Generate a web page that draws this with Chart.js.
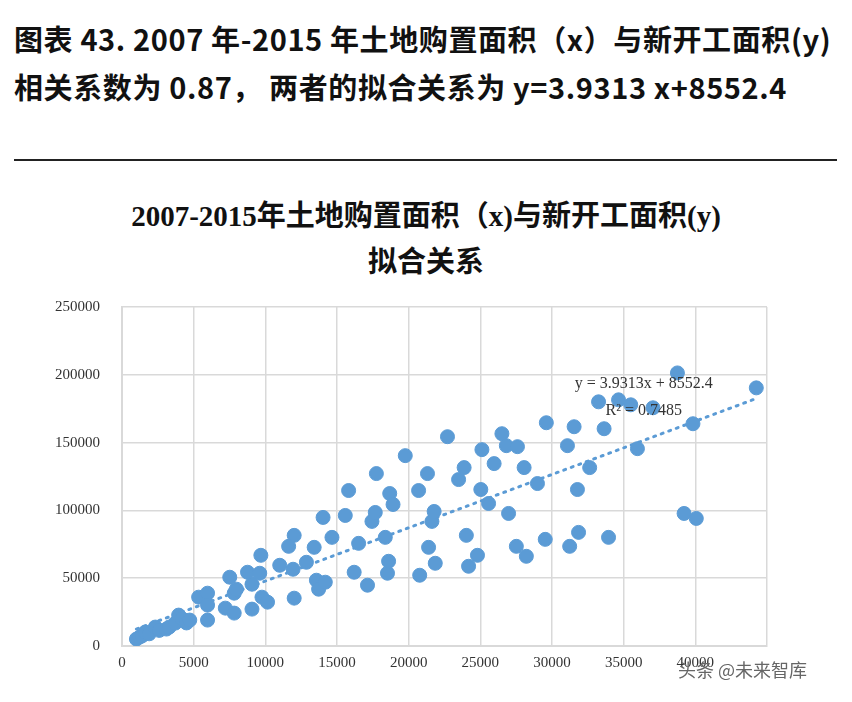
<!DOCTYPE html>
<html>
<head>
<meta charset="utf-8">
<script src="https://cdn.jsdelivr.net/npm/chart.js@4"></script>
<style>
  body { margin: 0; width: 852px; height: 702px; background: #fff; position: relative; overflow: hidden; font-family: "Noto Sans CJK SC", sans-serif; }
  .head { position: absolute; left: 14px; font-weight: bold; font-size: 29px; letter-spacing: 0.6px; color: #111; white-space: nowrap; }
  .rule { position: absolute; left: 14px; width: 823px; top: 159px; border-top: 2px solid #222; }
  .title { position: absolute; left: 0; width: 852px; text-align: center; font-size: 29px; color: #111; font-family: "Liberation Serif", "Noto Sans CJK SC", serif; font-weight: bold; }
  .mark { position: absolute; left: 678px; top: 656px; font-size: 18px; color: #666; }
  #wrap { position: absolute; left: 0; top: 276px; width: 852px; height: 426px; }
</style>
</head>
<body>
<div class="head" style="top:17px">图表 43. 2007 年-2015 年土地购置面积（x）与新开工面积(y)</div>
<div class="head" style="top:65px">相关系数为 0.87， 两者的拟合关系为 y=3.9313 x+8552.4</div>
<div class="rule"></div>
<div class="title" style="top:192px">2007-2015年土地购置面积（x)与新开工面积(y)</div>
<div class="title" style="top:238px">拟合关系</div>
<div id="wrap"><canvas id="myChart" width="852" height="426"></canvas></div>
<div class="mark">头条 @未来智库</div>
<script>
const landArea = [1008, 1240, 1400, 1628, 1900, 2325, 2600, 3100, 3300, 3720, 3953, 4200, 4500, 4728, 5348, 5968, 5968, 5968,
  7208, 7828, 7828, 7983, 7518, 9068, 9068, 8758, 9610, 9688, 9765, 10153, 11005, 11935, 12865, 12013, 11625, 13408, 13563, 13718,
  14648, 14028, 15578, 15810, 16198, 16508, 17128, 17438, 17670, 17748, 18368, 18523, 18600, 18678, 18910, 19763, 20693, 20770,
  21313, 21390, 21623, 21778, 21855, 22708, 23483, 23870, 24025, 24180, 24800, 25033, 25110, 25575, 25963, 26505, 26815, 26970,
  27513, 27590, 28055, 28210, 28985, 29528, 29605, 31078, 31233, 31543, 31775, 31853, 32628, 33248, 33635, 33945, 34643, 35495,
  35960, 37045, 38750, 39215, 39835, 40068, 44253, 12013, 14183];
const newStarts = [5145, 6615, 7500, 10290, 9000, 13965, 11500, 12495, 14000, 16905, 22785, 20000, 17000, 19110, 36015, 38955, 30135, 19110,
  27930, 24255, 38955, 41895, 50715, 45570, 27195, 54390, 53655, 66885, 36015, 32340, 59535, 56595, 61740, 81585, 73500, 72765, 48510, 41895,
  80115, 94815, 96285, 114660, 54390, 75705, 44835, 91875, 98490, 127155, 80115, 53655, 62475, 112455, 104370, 140385, 114660, 52185,
  127155, 72765, 91875, 99225, 61005, 154350, 122745, 131565, 81585, 58800, 66885, 115395, 144795, 105105, 134505, 156555, 147735, 97755,
  73500, 147000, 131565, 66150, 119805, 78645, 164640, 147735, 73500, 161700, 115395, 83790, 131565, 180075, 160230, 80115, 181545, 177870,
  145530, 175665, 201390, 97755, 163905, 94080, 190365, 35280, 47040];
const trendX = [1000, 44253];
const trendY = [12484, 182520];
const xTicks = [0, 5000, 10000, 15000, 20000, 25000, 30000, 35000, 40000, 45000];

const labelPlugin = {
  id: "fitLabel",
  afterDatasetsDraw(chart) {
    const ctx = chart.ctx;
    const xs = chart.scales.x, ys = chart.scales.y;
    ctx.save();
    ctx.fillStyle = "#333";
    ctx.font = "16px 'Liberation Serif'";
    ctx.textAlign = "center";
    ctx.textBaseline = "middle";
    ctx.fillText("y = 3.9313x + 8552.4", xs.getPixelForValue(36400), ys.getPixelForValue(193000));
    ctx.fillText("R² = 0.7485", xs.getPixelForValue(36400), ys.getPixelForValue(173500));
    ctx.restore();
  }
};

const ctx = document.getElementById("myChart").getContext("2d");
new Chart(ctx, {
  type: "scatter",
  data: {
    datasets: [
      {
        data: landArea.map((x, i) => ({ x: x, y: newStarts[i] })),
        backgroundColor: "#5b9bd5",
        borderColor: "#5b9bd5",
        pointRadius: 7,
        pointHoverRadius: 7
      },
      {
        type: "line",
        data: trendX.map((x, i) => ({ x: x, y: trendY[i] })),
        borderColor: "#5b9bd5",
        borderWidth: 3,
        borderDash: [2, 6],
        borderCapStyle: "round",
        pointRadius: 0,
        fill: false
      }
    ]
  },
  options: {
    responsive: false,
    animation: false,
    layout: { padding: { top: 2, right: 85, left: 0, bottom: 0 } },
    plugins: { legend: { display: false }, tooltip: { enabled: false } },
    scales: {
      x: {
        type: "linear", min: 0, max: 45000,
        afterBuildTicks: axis => { axis.ticks = xTicks.map(v => ({ value: v })); },
        afterFit: axis => { axis.height = 56; },
        grid: { color: "#d9d9d9", lineWidth: 1.5, drawTicks: false },
        border: { color: "#d9d9d9", width: 2 },
        ticks: { color: "#333", font: { family: "Liberation Serif", size: 15 }, padding: 8, maxRotation: 0,
          callback: v => (v === 45000 ? "" : String(v)) }
      },
      y: {
        min: 0, max: 250000,
        afterFit: axis => { axis.width = 122; },
        grid: { color: "#d9d9d9", lineWidth: 1.5, drawTicks: false },
        border: { color: "#d9d9d9", width: 2 },
        ticks: { stepSize: 50000, color: "#333", font: { family: "Liberation Serif", size: 15 }, padding: 22,
          callback: v => String(v) }
      }
    }
  },
  plugins: [labelPlugin]
});
</script>
</body>
</html>
